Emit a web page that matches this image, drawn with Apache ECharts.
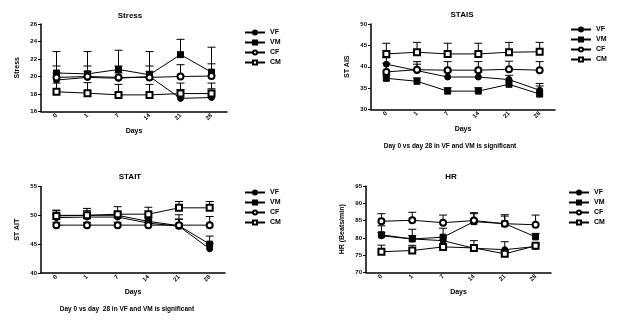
<!DOCTYPE html>
<html><head><meta charset="utf-8">
<script src="https://cdn.jsdelivr.net/npm/echarts@6/dist/echarts.min.js"></script>
<style>html,body{margin:0;padding:0;background:#fff}#c{width:617px;height:325px}</style>
</head><body><div id="c"></div>
<script>
var categories = ['0','1','7','14','21','28'];
var seriesNames = ['VF','VM','CF','CM'];

// Stress
var stressVF = [19.6, 19.9, 19.8, 20.0, 17.5, 17.6];
var stressVM = [20.4, 20.3, 20.8, 20.2, 22.5, 20.5];
var stressCF = [19.9, 20.0, 19.9, 19.9, 20.0, 20.05];
var stressCM = [18.25, 18.1, 17.9, 17.9, 18.05, 18.05];
var stressVFErr = [0.8, 0.7, 0.6, 0.6, 1.0, 1.0];
var stressVMErr = [2.45, 2.55, 2.2, 2.65, 1.75, 2.85];
var stressCFErr = [1.3, 1.2, 1.3, 1.3, 1.35, 1.4];
var stressCMErr = [1.0, 1.2, 1.2, 1.2, 1.2, 1.2];

// STAIS
var staisVF = [40.6, 39.1, 37.6, 37.6, 37.0, 34.5];
var staisVM = [37.3, 36.6, 34.3, 34.3, 35.9, 33.6];
var staisCF = [38.8, 39.3, 39.2, 39.2, 39.4, 39.2];
var staisCM = [43.0, 43.4, 43.0, 43.0, 43.4, 43.5];
var staisVFErr = [1.5, 1.5, 1.2, 1.2, 1.0, 1.6];
var staisVMErr = [0.8, 0.8, 0.8, 0.8, 0.8, 1.9];
var staisCFErr = [2.0, 1.9, 2.0, 2.0, 1.9, 2.0];
var staisCMErr = [2.5, 2.3, 2.5, 2.5, 2.3, 2.2];

// STAIT
var staitVF = [49.6, 49.7, 49.7, 48.65, 48.1, 44.2];
var staitVM = [50.0, 50.0, 50.0, 48.95, 48.2, 45.0];
var staitCF = [48.3, 48.3, 48.3, 48.3, 48.3, 48.3];
var staitCM = [49.9, 50.0, 50.2, 50.2, 51.3, 51.3];
var staitVFErr = [0.6, 0.6, 0.5, 0.5, 1.25, 0.9];
var staitVMErr = [0.8, 0.8, 0.6, 0.6, 1.9, 1.4];
var staitCFErr = [0.5, 0.5, 0.5, 0.5, 1.0, 1.5];
var staitCMErr = [1.0, 1.2, 1.3, 1.2, 1.1, 1.1];

// HR
var hrVF = [80.6, 79.7, 79.2, 77.0, 76.6, 77.5];
var hrVM = [80.9, 79.7, 80.2, 84.7, 84.1, 80.3];
var hrCF = [84.8, 85.1, 84.4, 85.0, 84.1, 83.8];
var hrCM = [76.0, 76.35, 77.4, 77.1, 75.4, 77.7];
var hrVFErr = [1.0, 1.0, 1.0, 2.2, 2.3, 0.5];
var hrVMErr = [2.6, 2.8, 2.6, 2.3, 2.6, 1.0];
var hrCFErr = [2.2, 2.3, 2.2, 2.3, 2.2, 2.8];
var hrCMErr = [1.9, 1.5, 0.5, 0.5, 0.5, 0.5];

var FONT = '"Liberation Sans", Arial, sans-serif';
var symbols = {VF:'circle', VM:'rect', CF:'emptyCircle', CM:'emptyRect'};

var panels = [
  {title:'Stress', yName:'Stress', min:16, max:26, interval:2, left:41, top:24, width:186, height:87.5,
   vals:[stressVF,stressVM,stressCF,stressCM], errs:[stressVFErr,stressVMErr,stressCFErr,stressCMErr],
   titleX:125, titleY:7, legX:239, legY:24},
  {title:'STAIS', yName:'ST AIS', min:30, max:50, interval:5, left:371, top:24, width:184, height:85.5,
   vals:[staisVF,staisVM,staisCF,staisCM], errs:[staisVFErr,staisVMErr,staisCFErr,staisCMErr],
   titleX:457, titleY:6, legX:565, legY:21},
  {title:'STAIT', yName:'ST AIT', min:40, max:55, interval:5, left:41, top:186.5, width:184, height:86.5,
   vals:[staitVF,staitVM,staitCF,staitCM], errs:[staitVFErr,staitVMErr,staitCFErr,staitCMErr],
   titleX:125, titleY:168, legX:239, legY:184},
  {title:'HR', yName:'HR (Beats/min)', min:70, max:95, interval:5, left:366, top:186, width:185, height:86.5,
   vals:[hrVF,hrVM,hrCF,hrCM], errs:[hrVFErr,hrVMErr,hrCFErr,hrCMErr],
   titleX:446, titleY:168, legX:563, legY:184}
];

function errRender(params, api) {
  var p1 = api.coord([api.value(0), api.value(1)]);
  var p2 = api.coord([api.value(0), api.value(2)]);
  var w = 8;
  return {type:'group', children:[
    {type:'line', shape:{x1:p1[0],y1:p1[1],x2:p2[0],y2:p2[1]}, style:{stroke:'#000', lineWidth:1}},
    {type:'line', shape:{x1:p2[0]-w/2,y1:p2[1],x2:p2[0]+w/2,y2:p2[1]}, style:{stroke:'#000', lineWidth:1}}
  ]};
}

var option = {animation:false, backgroundColor:'#fff', title:[], legend:[], grid:[], xAxis:[], yAxis:[], series:[],
  graphic:[
    {type:'text', x:450, y:143, style:{text:'Day 0 vs day 28 in VF and VM is significant', font:'bold 6.5px '+FONT, fill:'#000', textAlign:'center'}},
    {type:'text', x:127, y:306, style:{text:'Day 0 vs day  28 in VF and VM is significant', font:'bold 6.5px '+FONT, fill:'#000', textAlign:'center'}}
  ]};

panels.forEach(function(p, i){
  option.title.push({text:p.title, left:p.titleX, top:p.titleY, textAlign:'center',
    textStyle:{fontFamily:FONT, fontSize:8, fontWeight:'bold', color:'#000'}});
  option.legend.push({data:seriesNames, orient:'vertical', left:p.legX, top:p.legY, itemWidth:20, itemHeight:5, itemGap:3,
    textStyle:{fontFamily:FONT, fontSize:7, fontWeight:'bold', color:'#000', lineHeight:7}});
  option.grid.push({left:p.left, top:p.top, width:p.width, height:p.height});
  option.xAxis.push({type:'category', gridIndex:i, data:categories, boundaryGap:true,
    name:'Days', nameLocation:'middle', nameGap:16,
    nameTextStyle:{fontFamily:FONT, fontSize:7, fontWeight:'bold', color:'#000'},
    axisLine:{lineStyle:{color:'#000', width:1.5}},
    axisTick:{alignWithLabel:true, length:3, lineStyle:{color:'#000'}},
    axisLabel:{rotate:45, fontFamily:FONT, fontSize:6, fontWeight:'bold', color:'#000', margin:3}});
  option.yAxis.push({type:'value', gridIndex:i, min:p.min, max:p.max, interval:p.interval,
    name:p.yName, nameLocation:'middle', nameGap:20, nameRotate:90,
    nameTextStyle:{fontFamily:FONT, fontSize:7, fontWeight:'bold', color:'#000'},
    axisLine:{show:true, lineStyle:{color:'#000', width:1.5}},
    axisTick:{show:true, length:3, lineStyle:{color:'#000'}},
    splitLine:{show:false},
    axisLabel:{fontFamily:FONT, fontSize:6, fontWeight:'bold', color:'#000', margin:4}});
  seriesNames.forEach(function(n, k){
    var v = p.vals[k], e = p.errs[k];
    option.series.push({type:'custom', xAxisIndex:i, yAxisIndex:i, z:1, silent:true,
      renderItem:errRender, data:v.map(function(y, j){ return [j, y, y + e[j]]; })});
    option.series.push({type:'line', name:n, xAxisIndex:i, yAxisIndex:i, z:3, data:v,
      symbol:symbols[n], symbolSize:6, showAllSymbol:true,
      lineStyle:{color:'#000', width:1}, itemStyle:{color:'#000', borderColor:'#000', borderWidth:1}});
  });
});

var chart = echarts.init(document.getElementById('c'), null, {renderer:'canvas'});
chart.setOption(option);
</script>
</body></html>
